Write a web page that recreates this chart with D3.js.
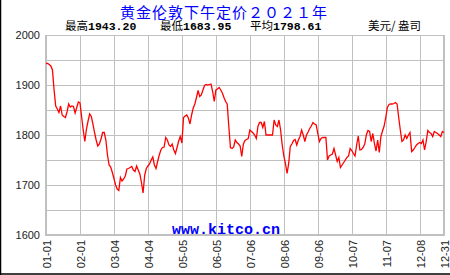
<!DOCTYPE html>
<meta charset="utf-8">
<style>
 body { margin: 0; background: #fff; }
 svg { display: block; background: #fff; }
 .grid line { stroke: #c0c0c0; stroke-width: 1px; shape-rendering: crispEdges; }
 .frame { stroke: #c0c0c0; shape-rendering: crispEdges; }
 .ylab, .xlab { font: 11px "Liberation Sans", Arial, sans-serif; fill: #222; }
</style>
<body>
<svg width="450" height="275"></svg>
</body>
<script src="https://cdn.jsdelivr.net/npm/d3@7"></script>
<script>
 // 2021 London PM fix, one value per trading day
 var prices = [
  1943.2,1943,1941,1938,1930,1890,1858,1852,1845,1858,
  1840,1837,1835,1846,1862,1856,1858,1857,1844,1855,
  1866,1864,1837,1810,1787,1812,1828,1842,1837,1822,
  1805,1790,1778,1782,1792,1805,1805,1790,1760,1740,
  1736,1725,1713,1700,1692,1689,1715,1708,1712,1718,
  1732,1733,1735,1737,1730,1727,1738,1730,1722,1705,
  1683.95,1720,1733,1738,1742,1750,1756,1740,1733,1747,
  1760,1770,1775,1776,1795,1790,1780,1777,1782,1770,
  1763,1775,1788,1797,1784,1835,1838,1840,1834,1822,
  1840,1854,1862,1875,1889,1877,1880,1890,1899,1901,
  1900,1901,1902,1887,1867,1890,1892,1895,1890,1884,
  1875,1867,1862,1817,1775,1773,1776,1790,1785,1782,
  1778,1757,1782,1789,1791,1793,1810,1807,1804,1800,
  1793,1817,1825,1825,1815,1827,1800,1800,1800,1800,
  1800,1830,1820,1817,1830,1810,1780,1758,1743,1723,
  1743,1777,1782,1789,1791,1780,1790,1797,1810,1800,
  1787,1800,1806,1813,1818,1825,1822,1820,1803,1787,
  1793,1795,1795,1795,1750,1758,1760,1762,1773,1760,
  1747,1755,1735,1740,1745,1750,1755,1758,1773,1769,
  1763,1758,1780,1798,1770,1771,1775,1782,1800,1809,
  1807,1787,1803,1783,1768,1790,1765,1797,1808,1818,
  1835,1855,1861,1862,1862,1863,1865,1862,1835,1810,
  1787,1790,1800,1793,1800,1805,1767,1770,1775,1780,
  1783,1785,1783,1790,1770,1787,1809,1805,1803,1797,
  1807,1805,1803,1800,1797,1807,1805
 ];
 var tickIdx = [0, 21, 42, 63, 84, 105, 126, 147, 168, 189, 210, 231, 246];
 var tickDates = ["01-01","02-01","03-04","04-04","05-05","06-05","07-06",
                  "08-06","09-06","10-07","11-07","12-08","12-31"];
 var yLabels = [1600, 1700, 1800, 1900, 2000];
 var yGrid = [1650, 1700, 1750, 1800, 1850, 1900, 1950];
 var stats = [["最高", "1943.20"], ["最低", "1683.95"], ["平均", "1798.61"]];

 var svg = d3.select("svg");

 var x = d3.scaleLinear().domain([0, prices.length - 1]).range([46, 444]);
 var y = d3.scaleLinear().domain([1600, 2000]).range([235, 35]);

 // outer frame (left + bottom dark edge)
 svg.append("line").attr("x1", 0.5).attr("x2", 0.5).attr("y1", 0).attr("y2", 275)
    .attr("stroke", "#000").attr("stroke-width", 1.5);
 svg.append("line").attr("x1", 0).attr("x2", 450).attr("y1", 274).attr("y2", 274)
    .attr("stroke", "#000").attr("stroke-width", 1.5);

 var grid = svg.append("g").attr("class", "grid");
 grid.selectAll(".h").data(yGrid).enter().append("line")
     .attr("x1", x(0)).attr("x2", x(246))
     .attr("y1", function(d){ return Math.round(y(d)) + 0.5; })
     .attr("y2", function(d){ return Math.round(y(d)) + 0.5; });
 grid.selectAll(".v").data(tickIdx.slice(1, -1)).enter().append("line")
     .attr("y1", y(2000)).attr("y2", y(1600))
     .attr("x1", function(d){ return Math.round(x(d)) + 0.5; })
     .attr("x2", function(d){ return Math.round(x(d)) + 0.5; });

 // plot frame
 svg.append("line").attr("class", "frame").attr("x1", x(0)).attr("x2", x(246))
    .attr("y1", 35.5).attr("y2", 35.5).attr("stroke-width", 1);
 svg.append("line").attr("class", "frame").attr("x1", x(246)).attr("x2", x(246))
    .attr("y1", 35).attr("y2", 236).attr("stroke-width", 2);
 svg.append("line").attr("class", "frame").attr("x1", x(0)).attr("x2", x(0))
    .attr("y1", 35).attr("y2", 236).attr("stroke-width", 2);
 svg.append("line").attr("class", "frame").attr("x1", x(0) - 1).attr("x2", x(246) + 1)
    .attr("y1", 235).attr("y2", 235).attr("stroke-width", 2);

 // y labels
 svg.selectAll(".ylab").data(yLabels).enter().append("text")
    .attr("class", "ylab")
    .attr("x", 40).attr("y", function(d){ return y(d); })
    .attr("dy", "0.36em").attr("text-anchor", "end")
    .text(function(d){ return d; });

 // x labels, rotated
 svg.selectAll(".xlab").data(tickIdx).enter().append("text")
    .attr("class", "xlab")
    .attr("transform", function(d){ return "translate(" + (x(d) + 1.5) + ",240) rotate(-90)"; })
    .attr("dy", "0.36em").attr("text-anchor", "end")
    .text(function(d, i){ return tickDates[i]; });

 // watermark
 svg.append("text").attr("x", 226).attr("y", 234).attr("text-anchor", "middle")
    .style("font", "bold 15px 'Liberation Mono', 'DejaVu Sans Mono', monospace")
    .attr("fill", "#0000ff").text("www.kitco.cn");

 // price line
 var line = d3.line()
     .x(function(d, i){ return x(i); })
     .y(function(d){ return y(d); });
 svg.append("path").datum(prices)
    .attr("d", line).attr("fill", "none")
    .attr("stroke", "#ff0000").attr("stroke-width", 1.3);

 // title
 svg.append("text").attr("x", 224).attr("y", 17.5).attr("text-anchor", "middle")
    .style("font", "15px 'Noto Sans CJK SC', sans-serif").style("letter-spacing", "1px")
    .attr("fill", "#0000ff")
    .text("黄金伦敦下午定价２０２１年");

 // stats row
 var sx = [65, 160, 250];
 stats.forEach(function(s, i){
     var t = svg.append("text").attr("x", sx[i]).attr("y", 30).attr("fill", "#000");
     t.append("tspan").style("font", "11.5px 'Noto Sans CJK SC', sans-serif").text(s[0]);
     t.append("tspan").style("font", "bold 11.5px 'Liberation Mono', monospace").text(s[1]);
 });
 svg.append("text").attr("x", 368).attr("y", 30).attr("fill", "#000")
    .style("font", "11.5px 'Noto Sans CJK SC', sans-serif").text("美元/ 盎司");
</script>
</html>
